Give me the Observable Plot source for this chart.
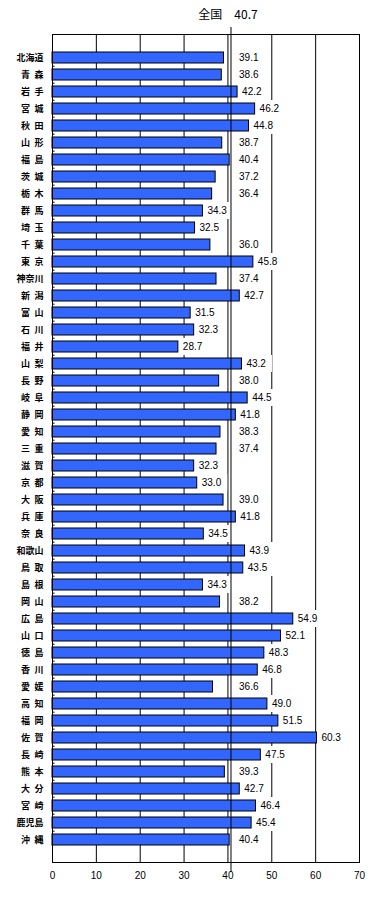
<!DOCTYPE html>
<html>
<head>
<meta charset="utf-8">
<script src="https://cdn.jsdelivr.net/npm/d3@7"></script>
<script src="https://cdn.jsdelivr.net/npm/@observablehq/plot@0.6"></script>
<style>
  html, body { margin: 0; padding: 0; background: #fff; }
  #chart svg { display: block; }
</style>
</head>
<body>
<div id="chart"></div>
<script>
const prefectures = ["北海道","青森","岩手","宮城","秋田","山形","福島","茨城","栃木","群馬","埼玉","千葉","東京","神奈川","新潟","富山","石川","福井","山梨","長野","岐阜","静岡","愛知","三重","滋賀","京都","大阪","兵庫","奈良","和歌山","鳥取","島根","岡山","広島","山口","徳島","香川","愛媛","高知","福岡","佐賀","長崎","熊本","大分","宮崎","鹿児島","沖縄"];
const values = [39.1,38.6,42.2,46.2,44.8,38.7,40.4,37.2,36.4,34.3,32.5,36.0,45.8,37.4,42.7,31.5,32.3,28.7,43.2,38.0,44.5,41.8,38.3,37.4,32.3,33.0,39.0,41.8,34.5,43.9,43.5,34.3,38.2,54.9,52.1,48.3,46.8,36.6,49.0,51.5,60.3,47.5,39.3,42.7,46.4,45.4,40.4];
const nationalName = "全国";
const nationalValue = 40.7;
const xTicks = [0,10,20,30,40,50,60,70];
const gridValues = [10,20,30,40,50,60];

const data = prefectures.map((name, i) => ({name, value: values[i]}));

const W = 388, H = 901;
const mL = 52, mR = 29, mT = 34, mB = 39;
const xMax = 70;
const pxPerUnit = (W - mL - mR) / xMax;
const step = (H - mT - mB) / prefectures.length;

// label placement: labels that would collide with the national line are pushed past it
const labelX = d => (d.value < nationalValue && d.value > 35) ? 41.5 : d.value;

const plot = Plot.plot({
  width: W,
  height: H,
  marginLeft: mL,
  marginRight: mR,
  marginTop: mT,
  marginBottom: mB,
  style: {fontFamily: "'Liberation Sans', Arial, sans-serif", background: "#fff", color: "#000"},
  x: {domain: [0, xMax]},
  y: {type: "band", domain: prefectures, padding: 0},
  marks: [
    Plot.ruleX(gridValues, {stroke: "#000", strokeWidth: 1}),
    Plot.barX(data, {y: "name", x: "value", fill: "#3366FF", stroke: "#000", strokeWidth: 1, insetTop: 3, insetBottom: 3}),
    Plot.barX(data, {
      y: "name",
      x1: d => labelX(d) + 2.5 / pxPerUnit,
      x2: d => labelX(d) + 30.5 / pxPerUnit,
      fill: "#fff"
    }),
    Plot.text(data, {
      y: "name", x: labelX, text: d => d.value.toFixed(1),
      textAnchor: "start", dx: 4.5, fontSize: 10, fill: "#000"
    }),
    Plot.ruleY(prefectures.slice(1), {y: d => d, x1: 0, x2: 2.5 / pxPerUnit, dy: -step / 2, stroke: "#000"}),
    Plot.frame({stroke: "#000", strokeWidth: 1}),
    Plot.ruleX([nationalValue], {stroke: "#000", strokeWidth: 1, insetTop: -7, insetBottom: -10}),
    Plot.text([nationalValue], {
      x: d => d, frameAnchor: "top", dy: -19, dx: -3,
      text: d => nationalName + "\u3000" + d.toFixed(1),
      fontSize: 12, lineAnchor: "middle", fill: "#000",
      fontFamily: "'Noto Sans CJK JP', sans-serif"
    }),
    Plot.axisY({
      tickSize: 0, tickPadding: 9, label: null,
      tickFormat: d => d.length === 2 ? d[0] + "\u2002" + d[1] : d,
      fontSize: 9, fontWeight: "bold",
      fontFamily: "'Noto Sans CJK JP', sans-serif"
    }),
    Plot.axisX({ticks: xTicks, tickSize: 0, tickPadding: 9, label: null, fontSize: 10})
  ]
});
document.getElementById("chart").appendChild(plot);
</script>
</body>
</html>
